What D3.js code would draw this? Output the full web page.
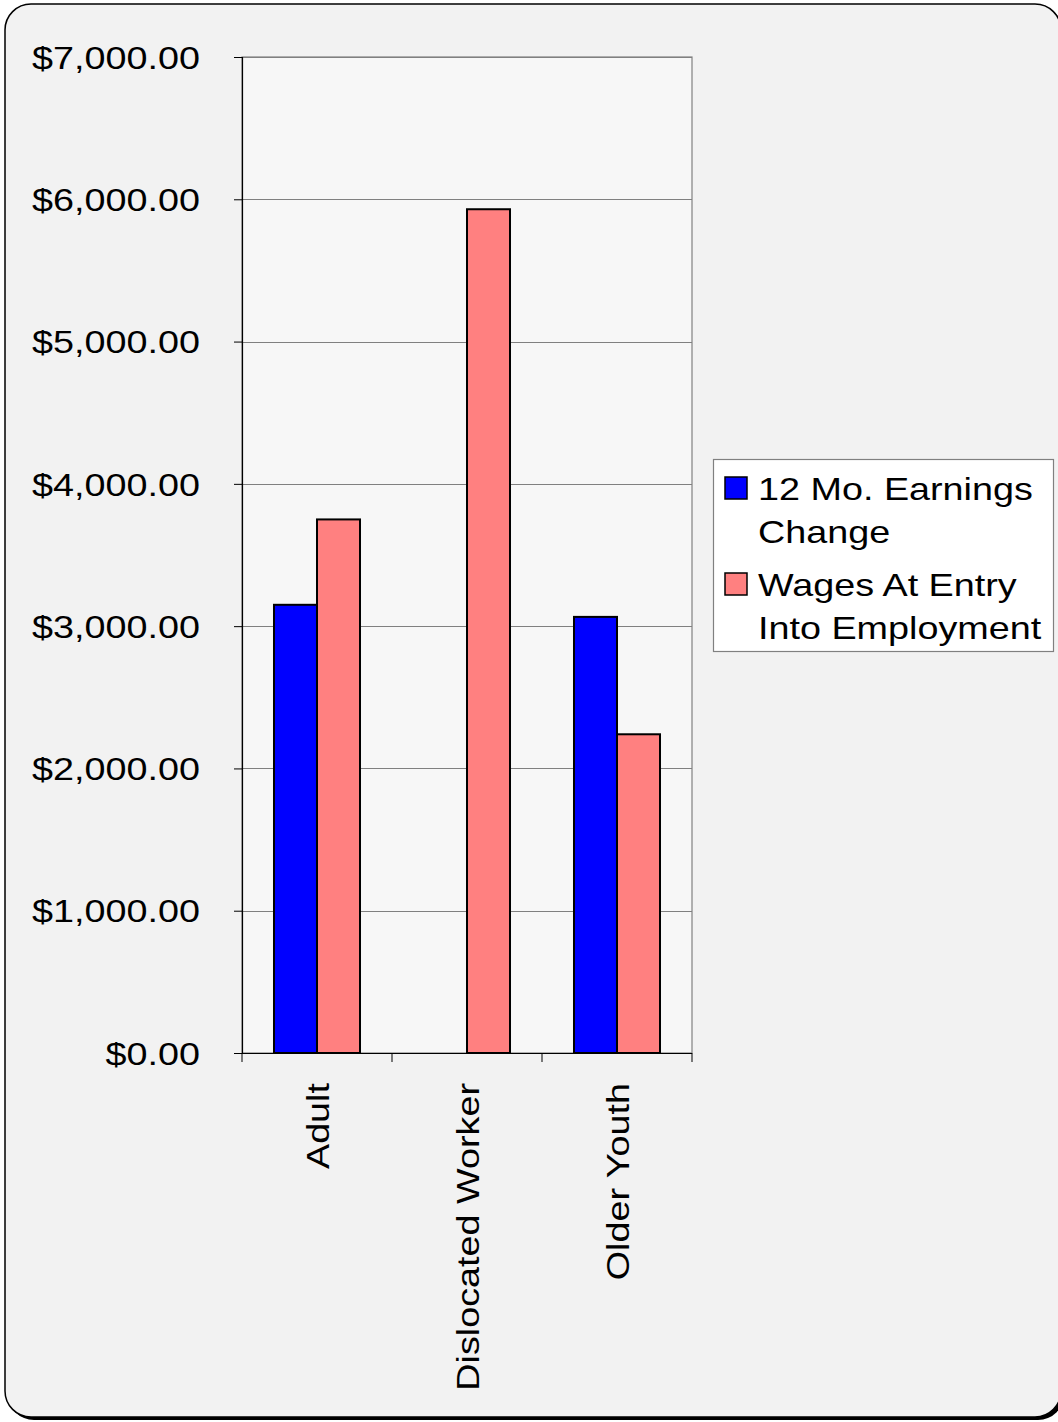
<!DOCTYPE html>
<html>
<head>
<meta charset="utf-8">
<script src="https://cdn.jsdelivr.net/npm/d3@7"></script>
<style>
  html, body { margin: 0; padding: 0; background: #ffffff; }
  svg { display: block; }
  text { font-family: "Liberation Sans", Arial, sans-serif; fill: #000; }
</style>
</head>
<body>
<svg id="chart" width="1058" height="1422"></svg>
<script>
// Program categories and the two series
const categories = ["Adult", "Dislocated Worker", "Older Youth"];
const seriesNames = ["12 Mo. Earnings Change", "Wages At Entry Into Employment"];
const earningsChange = [3150, 0, 3065];
const wagesAtEntry = [3750, 5930, 2240];
const yTicks = [0, 1000, 2000, 3000, 4000, 5000, 6000, 7000];
const seriesColors = ["#0000ff", "#ff8080"];
const legendLines = [["12 Mo. Earnings", "Change"], ["Wages At Entry", "Into Employment"]];

// Text is drawn in a slightly widened sans face
const FONT = 32;
const WIDEN = 1.18;

const svg = d3.select("#chart");

// Rounded outer frame with a drop shadow
svg.append("rect")
  .attr("x", 8).attr("y", 7).attr("width", 1056).attr("height", 1413)
  .attr("rx", 26).attr("ry", 26).attr("fill", "#000");
svg.append("rect")
  .attr("x", 5).attr("y", 4).attr("width", 1056).attr("height", 1413)
  .attr("rx", 26).attr("ry", 26)
  .attr("fill", "#f2f2f2").attr("stroke", "#000").attr("stroke-width", 1.5);

const plot = { left: 242, right: 692, top: 57, bottom: 1053 };

const x = d3.scaleBand().domain(categories).range([plot.left, plot.right]).paddingInner(0).paddingOuter(0);
const xInner = d3.scaleBand().domain(d3.range(seriesNames.length))
  .range([0, x.bandwidth()]).paddingOuter(0.744).paddingInner(0);
const y = d3.scaleLinear().domain([0, 7000]).range([plot.bottom, plot.top]);

// Plot background
svg.append("rect")
  .attr("x", plot.left).attr("y", plot.top)
  .attr("width", plot.right - plot.left).attr("height", plot.bottom - plot.top)
  .attr("fill", "#f7f7f7").attr("stroke", "#808080").attr("stroke-width", 1.2);

// Horizontal gridlines
svg.append("g").selectAll("line")
  .data(yTicks.filter(d => d > 0))
  .join("line")
  .attr("x1", plot.left).attr("x2", plot.right)
  .attr("y1", d => Math.round(y(d)) + 0.5).attr("y2", d => Math.round(y(d)) + 0.5)
  .attr("stroke", "#808080").attr("stroke-width", 1);

// Bars
const data = categories.map((c, i) => ({ cat: c, vals: [earningsChange[i], wagesAtEntry[i]] }));
const groups = svg.append("g").selectAll("g")
  .data(data).join("g")
  .attr("transform", d => `translate(${x(d.cat)},0)`);
groups.selectAll("rect")
  .data(d => d.vals.map((v, k) => ({ v, k })).filter(e => e.v > 0))
  .join("rect")
  .attr("x", e => xInner(e.k))
  .attr("width", xInner.bandwidth())
  .attr("y", e => y(e.v))
  .attr("height", e => y(0) - y(e.v))
  .attr("fill", e => seriesColors[e.k])
  .attr("stroke", "#000").attr("stroke-width", 2);

// Y axis
const yAxis = d3.axisLeft(y).tickValues(yTicks).tickSize(8).tickPadding(34)
  .tickFormat(d => "$" + d3.format(",.2f")(d));
const gy = svg.append("g").attr("transform", `translate(${plot.left},0)`).call(yAxis);
gy.select(".domain").attr("stroke", "#000").attr("stroke-width", 1.2);
gy.selectAll(".tick line").attr("stroke", "#000");
gy.selectAll(".tick text")
  .style("font-size", FONT + "px")
  .attr("x", 0).attr("dy", "0.35em")
  .attr("transform", `translate(-42,0) scale(${WIDEN},1)`);

// X axis
const xAxis = d3.axisBottom(x).tickSize(0).tickFormat("");
const gx = svg.append("g").attr("transform", `translate(0,${plot.bottom})`).call(xAxis);
gx.select(".domain").remove();
gx.append("line").attr("x1", plot.left - 8).attr("x2", plot.right).attr("y1", 0.5).attr("y2", 0.5)
  .attr("stroke", "#000").attr("stroke-width", 1.2);
const boundaries = categories.map(c => x(c)).concat([plot.right]);
gx.selectAll(".sep").data(boundaries).join("line")
  .attr("class", "sep")
  .attr("x1", d => d).attr("x2", d => d).attr("y1", 0).attr("y2", 9)
  .attr("stroke", "#000");
gx.selectAll(".lbl").data(categories).join("text")
  .attr("class", "lbl")
  .attr("transform", d => `translate(${x(d) + x.bandwidth() / 2 + 12},30) rotate(-90) scale(${WIDEN},1)`)
  .attr("text-anchor", "end")
  .style("font-size", FONT + "px")
  .text(d => d);

// Legend
const legend = svg.append("g").attr("transform", "translate(713,459)");
legend.append("rect").attr("x", 0.5).attr("y", 0.5).attr("width", 340).attr("height", 192)
  .attr("fill", "#fff").attr("stroke", "#808080").attr("stroke-width", 1.2);
const items = legend.selectAll(".item").data(seriesNames).join("g")
  .attr("class", "item")
  .attr("transform", (d, i) => `translate(0,${i * 96})`);
items.append("rect").attr("x", 12).attr("y", 18).attr("width", 22).attr("height", 22)
  .attr("fill", (d, i) => seriesColors[i]).attr("stroke", "#000").attr("stroke-width", 1.5);
items.each(function(d, i) {
  legendLines[i].forEach((line, j) => {
    d3.select(this).append("text")
      .style("font-size", FONT + "px")
      .attr("transform", `translate(45,${41 + j * 43}) scale(${WIDEN},1)`)
      .text(line);
  });
});
</script>
</body>
</html>
